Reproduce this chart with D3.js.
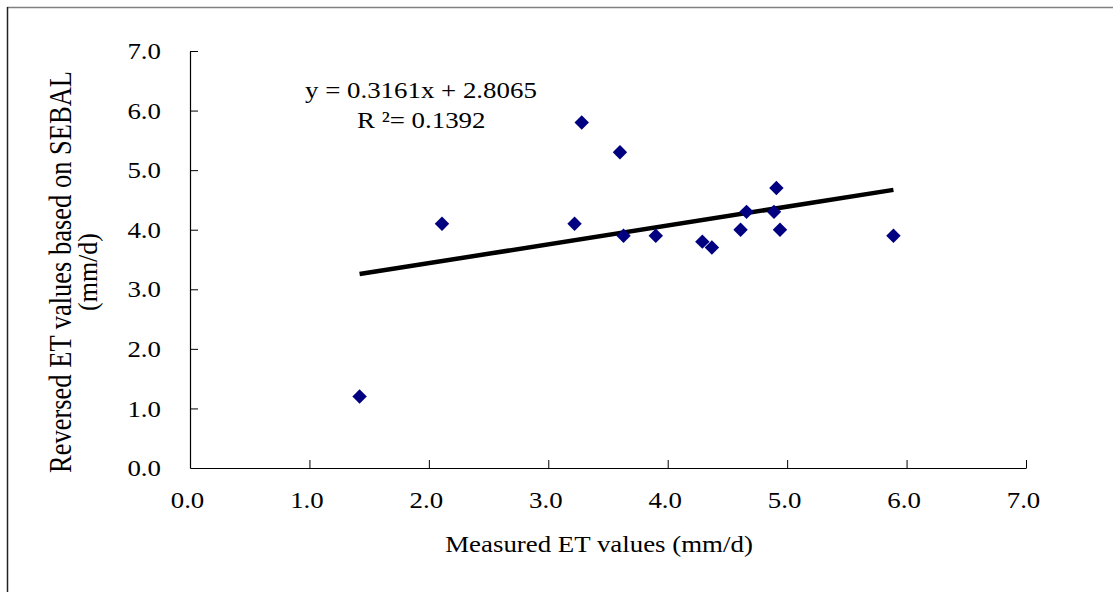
<!DOCTYPE html>
<html>
<head>
<meta charset="utf-8">
<script src="https://cdn.jsdelivr.net/npm/d3@7"></script>
<style>
  html, body { margin: 0; padding: 0; background: #fff; }
  svg { display: block; font-family: "Liberation Serif", "Times New Roman", serif; }
</style>
</head>
<body>
<svg id="chart" width="1113" height="592"></svg>
<script>
// Measured vs reversed ET values (mm/d)
const measuredET = [1.42, 2.11, 3.28, 3.60, 3.22, 3.63, 3.90, 4.29, 4.37, 4.61, 4.66, 4.91, 4.89, 4.94, 5.89];
const reversedET = [1.20, 4.10, 5.80, 5.30, 4.10, 3.90, 3.90, 3.80, 3.70, 4.00, 4.30, 4.70, 4.30, 4.00, 3.90];
const tickValues = [0, 1, 2, 3, 4, 5, 6, 7];
const slope = 0.3161;
const intercept = 2.8065;
const equationText = 'y = 0.3161x + 2.8065';
const r2Text = 'R ²= 0.1392';

// the original picture is a bit wider than tall, so text is stretched sideways
const stretch = 1.12;

const svg = d3.select('#chart');

// Outer chart frame
svg.append('line')
  .attr('x1', 7).attr('x2', 1113).attr('y1', 7.5).attr('y2', 7.5)
  .attr('stroke', '#808080').attr('stroke-width', 1.5);
svg.append('line')
  .attr('x1', 7.5).attr('x2', 7.5).attr('y1', 7).attr('y2', 592)
  .attr('stroke', '#222').attr('stroke-width', 1.5);

// Scales
const x = d3.scaleLinear().domain([0, 7]).range([190, 1026]);
const y = d3.scaleLinear().domain([0, 7]).range([468, 51]);

// Axes with inward ticks
const xAxis = svg.append('g')
  .attr('transform', `translate(0,${y(0)})`)
  .call(d3.axisBottom(x).tickValues(tickValues).tickSize(-8).tickSizeOuter(0).tickPadding(23).tickFormat(d3.format('.1f')));
const yAxis = svg.append('g')
  .attr('transform', `translate(${x(0)},0)`)
  .call(d3.axisLeft(y).tickValues(tickValues).tickSize(-8).tickSizeOuter(0).tickFormat(d3.format('.1f')));

[xAxis, yAxis].forEach(g => {
  g.select('.domain').attr('stroke', '#000').attr('stroke-width', 1.2);
  g.selectAll('.tick line').attr('stroke', '#000').attr('stroke-width', 1);
  g.selectAll('.tick text')
    .attr('fill', '#000')
    .style('font-family', '"Liberation Serif", "Times New Roman", serif')
    .style('font-size', '24px');
});
xAxis.selectAll('.tick text').attr('transform', `translate(-3,0) scale(${stretch},1)`);
yAxis.selectAll('.tick text').attr('x', 0).attr('transform', `translate(-29,0) scale(${stretch},1)`);

// no tick marks at the origin
xAxis.selectAll('.tick').filter(d => d === 0).select('line').remove();
yAxis.selectAll('.tick').filter(d => d === 0).select('line').remove();

// Trend line
const xMin = d3.min(measuredET), xMax = d3.max(measuredET);
svg.append('line')
  .attr('x1', x(xMin)).attr('y1', y(slope * xMin + intercept))
  .attr('x2', x(xMax)).attr('y2', y(slope * xMax + intercept))
  .attr('stroke', '#000').attr('stroke-width', 4.5);

// Diamond markers
const diamond = d3.symbol().type(d3.symbolSquare).size(104);
svg.append('g').selectAll('path')
  .data(measuredET.map((v, i) => [v, reversedET[i]]))
  .join('path')
  .attr('d', diamond)
  .attr('transform', d => `translate(${x(d[0])},${y(d[1])}) rotate(45)`)
  .attr('fill', '#000080');

// Equation labels
svg.append('text')
  .attr('transform', `translate(305,98) scale(${stretch},1)`)
  .style('font-size', '24px')
  .text(equationText);
svg.append('text')
  .attr('transform', `translate(357,128) scale(${stretch},1)`)
  .style('font-size', '24px')
  .text(r2Text);

// Axis titles
svg.append('text')
  .attr('transform', `translate(599,552) scale(${stretch},1)`)
  .attr('text-anchor', 'middle')
  .style('font-size', '24px')
  .text('Measured ET values (mm/d)');

svg.append('text')
  .attr('transform', 'translate(71,272) rotate(-90) scale(1,1.2)')
  .attr('text-anchor', 'middle')
  .style('font-size', '26.5px')
  .text('Reversed ET values based on SEBAL');
svg.append('text')
  .attr('transform', 'translate(97,272) rotate(-90) scale(1,1.05)')
  .attr('text-anchor', 'middle')
  .style('font-size', '26px')
  .text('(mm/d)');
</script>
</body>
</html>
